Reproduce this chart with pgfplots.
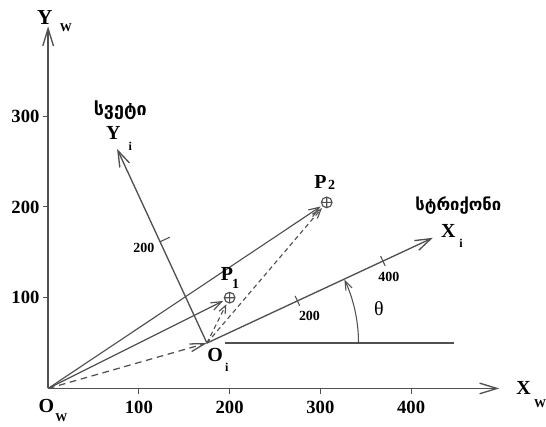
\documentclass[border=0pt]{standalone}
\usepackage{fontspec}
\setmainfont{Liberation Serif}
\newfontfamily\geo{DejaVu Sans}
\usepackage{pgfplots}
\pgfplotsset{compat=1.18}
\usetikzlibrary{arrows.meta}
\definecolor{ln}{HTML}{505050}

\begin{document}
\begin{tikzpicture}[
    big/.style={font=\bfseries\fontsize{15}{15}\selectfont, inner sep=0pt},
    sub/.style={font=\bfseries\fontsize{9}{9}\selectfont, inner sep=0pt},
    small/.style={font=\bfseries\fontsize{10.5}{10.5}\selectfont, inner sep=0pt},
  ]
\begin{axis}[
    x=0.6825pt, y=0.6825pt,
    xmin=0, xmax=497, ymin=0, ymax=399,
    axis lines=left,
    axis line style={ln, line width=1.1pt, -{Straight Barb[length=13pt,width=8pt,line width=1pt]}},
    xtick={100,200,300,400}, ytick={100,200,300},
    tick align=outside, major tick length=4pt,
    tick style={ln, line width=0.8pt},
    ticklabel style={font=\bfseries\fontsize{14}{14}\selectfont},
    xticklabel style={yshift=-2pt},
    yticklabel style={xshift=1pt},
    /pgf/number format/assume math mode=true,
    clip=false,
  ]
  % fixed frame of the picture
  \path (axis cs:-53,-41.4) rectangle (axis cs:547,428);

  % vectors from O_W
  \addplot[ln, line width=0.85pt, shorten >=5.5pt, -{Straight Barb[length=8pt,width=6pt]}]
    coordinates {(0,0) (200,100)};
  \addplot[ln, line width=0.85pt, shorten >=5.5pt, -{Straight Barb[length=8pt,width=6pt]}]
    coordinates {(0,0) (307,205)};
  \addplot[ln, line width=0.95pt, dash pattern=on 5pt off 3.5pt, -{Straight Barb[length=11pt,width=6pt]}]
    coordinates {(0,0) (175,50)};
  % vectors from O_i
  \addplot[ln, line width=0.85pt, dash pattern=on 3.5pt off 2.5pt, shorten >=5.5pt, -{Straight Barb[length=6pt,width=5pt]}]
    coordinates {(175,50) (200,100)};
  \addplot[ln, line width=0.85pt, dash pattern=on 3.5pt off 2.5pt, shorten >=5.5pt, -{Straight Barb[length=7pt,width=5pt]}]
    coordinates {(175,50) (307,205)};

  % local frame
  \addplot[ln, line width=1pt, -{Straight Barb[length=12pt,width=8pt]}]
    coordinates {(175,50) (424,166)};
  \addplot[ln, line width=1pt, -{Straight Barb[length=12pt,width=8pt]}]
    coordinates {(175,50) (76,264)};
  \addplot[ln, line width=1pt] coordinates {(195,50) (447,50)};
  % ticks on the local axes
  \addplot[ln, line width=0.8pt] coordinates {(272.2,101.9) (277.2,91.1)};
  \addplot[ln, line width=0.8pt] coordinates {(366.4,145.8) (371.4,135.0)};
  \addplot[ln, line width=0.8pt] coordinates {(123,161.5) (134,166.6)};

  % points
  \addplot[ln, only marks, mark=oplus, mark size=4pt, mark options={line width=0.85pt}]
    coordinates {(200,100) (307,205)};

  % angle theta
  \draw[ln, line width=0.8pt, -{Straight Barb[length=7pt,width=5pt]}]
    (axis cs:342,50) arc[start angle=0, end angle=25, radius=113.3pt];

  % labels
  \node[big, font=\bfseries\fontsize{16}{16}\selectfont] at (axis cs:-3.6,409) {Y};
  \node[sub] at (axis cs:19.5,397) {W};
  \node[big] at (axis cs:524,0) {X};
  \node[sub] at (axis cs:542,-17) {W};
  \node[big] at (axis cs:-2,-19) {O};
  \node[sub] at (axis cs:14.7,-32) {W};
  \node[big] at (axis cs:184,36.6) {O};
  \node[sub] at (axis cs:197,23) {i};
  \node[big] at (axis cs:197,125.6) {P};
  \node[sub, font=\bfseries\fontsize{10.5}{10.5}\selectfont] at (axis cs:206.5,115) {1};
  \node[big] at (axis cs:300,228) {P};
  \node[sub, font=\bfseries\fontsize{10.5}{10.5}\selectfont] at (axis cs:312.5,224) {2};
  \node[big] at (axis cs:441,173) {X};
  \node[sub] at (axis cs:455,160) {i};
  \node[big] at (axis cs:72,281) {Y};
  \node[sub] at (axis cs:90.5,266.6) {i};
  \node[font=\fontsize{15}{15}\selectfont, inner sep=0pt] at (axis cs:364.5,87.5) {θ};
  \node[small] at (axis cs:288,80) {200};
  \node[small] at (axis cs:375.5,122.6) {400};
  \node[small] at (axis cs:105.5,155) {200};
  \node[font=\geo\bfseries\fontsize{13.5}{13.5}\selectfont, inner sep=0pt] at (axis cs:79.5,306) {სვეტი};
  \node[font=\geo\bfseries\fontsize{12.5}{12.5}\selectfont, inner sep=0pt] at (axis cs:452,201.5) {სტრიქონი};
\end{axis}
\end{tikzpicture}
\end{document}
